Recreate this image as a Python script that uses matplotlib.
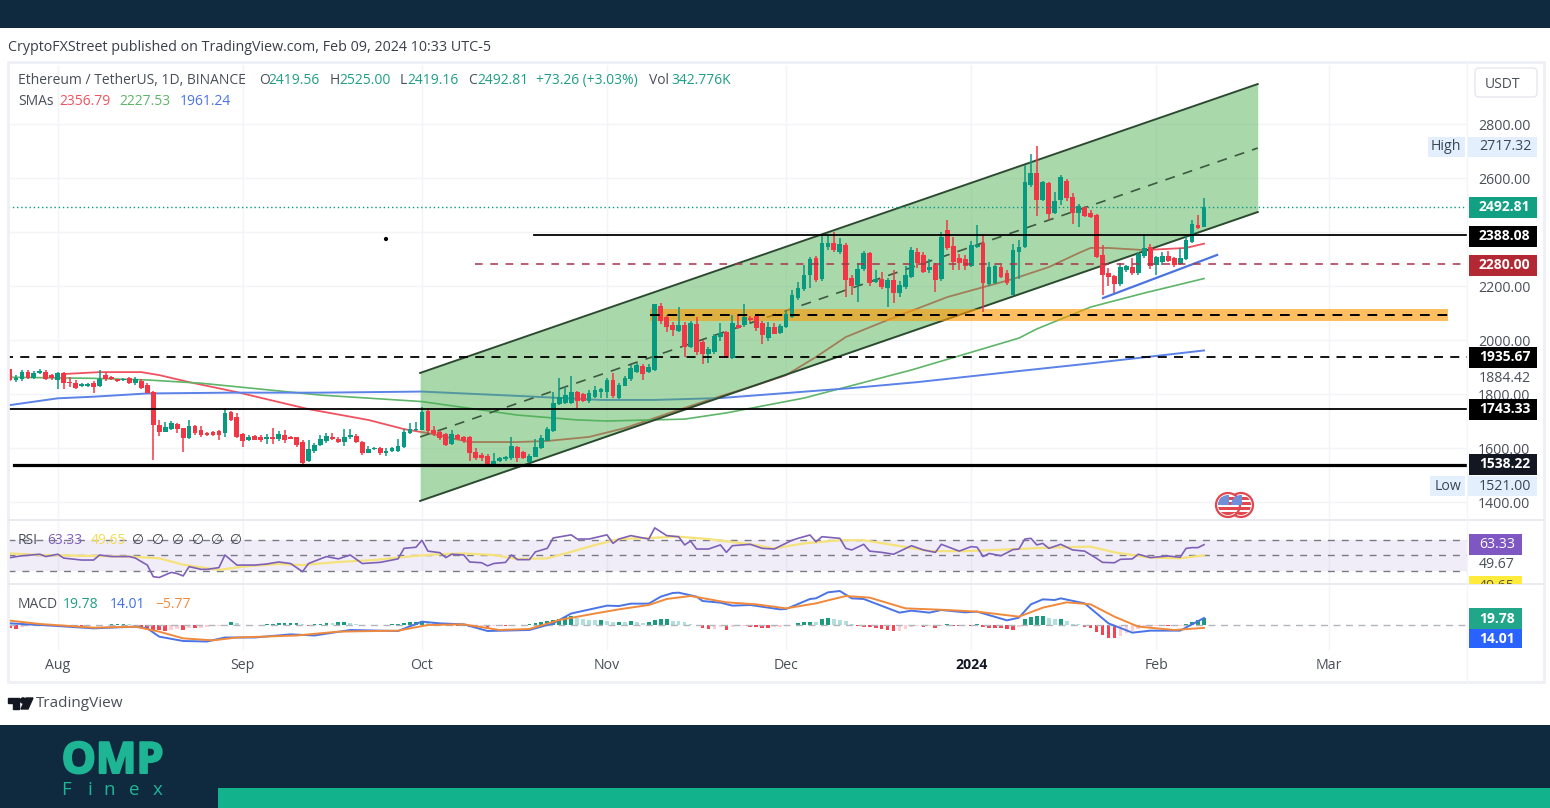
import matplotlib
matplotlib.use('Agg')
import matplotlib.pyplot as plt
import matplotlib.patheffects as pe
from matplotlib.patches import Rectangle, Circle, Polygon, FancyBboxPatch
from matplotlib.ticker import FixedLocator

W, H = 1550, 808
FONT = 'Open Sans'
plt.rcParams['font.family'] = [FONT, 'DejaVu Sans']

# daily candles, 2023-07-24 to 2024-02-09
opens = [1891,1852,1854,1883,1860,1876,1883,1870,1852,1877,
         1845,1842,1830,1829,1840,1830,1870,1862,1854,1852,
         1858,1840,1850,1833,1808,1685,1660,1669,1689,1673,
         1636,1681,1667,1657,1659,1664,1654,1733,1714,1651,
         1628,1644,1642,1632,1642,1632,1648,1640,1640,1623,
         1553,1590,1611,1627,1642,1635,1623,1639,1644,1623,
         1583,1597,1599,1581,1590,1590,1602,1657,1667,1668,
         1738,1668,1660,1652,1615,1648,1642,1640,1586,1574,
         1570,1541,1553,1558,1562,1605,1586,1550,1568,1601,
         1627,1663,1763,1765,1765,1806,1800,1774,1790,1808,
         1808,1852,1784,1831,1855,1882,1905,1880,1889,2126,
         2086,2055,2035,2055,1975,2059,1994,1948,1957,2012,
         2031,1932,2055,2055,2080,2089,2064,2006,2049,2025,
         2049,2086,2154,2188,2241,2302,2225,2345,2358,2327,
         2352,2228,2204,2262,2321,2216,2225,2191,2222,2175,
         2197,2234,2327,2315,2259,2278,2225,2407,2348,2302,
         2299,2274,2345,2358,2207,2210,2271,2249,2166,2327,
         2343,2574,2617,2519,2580,2469,2518,2590,2531,2469,
         2491,2472,2463,2315,2247,2238,2207,2259,2269,2247,
         2311,2346,2278,2290,2311,2302,2281,2299,2364,2426,
         2419.56]
highs = [1893,1870,1888,1890,1885,1892,1890,1875,1880,1882,
         1862,1852,1840,1839,1848,1889,1880,1868,1856,1858,
         1862,1862,1856,1840,1812,1703,1695,1701,1692,1675,
         1704,1686,1682,1660,1662,1668,1747,1736,1728,1655,
         1650,1648,1650,1652,1673,1664,1667,1643,1642,1628,
         1630,1617,1648,1657,1654,1640,1670,1669,1652,1626,
         1607,1603,1602,1600,1605,1632,1669,1691,1698,1753,
         1748,1680,1668,1655,1667,1652,1645,1645,1600,1580,
         1576,1580,1566,1570,1642,1608,1590,1576,1635,1648,
         1679,1808,1858,1827,1866,1810,1805,1815,1831,1822,
         1860,1876,1840,1865,1907,1916,1910,1911,2133,2138,
         2092,2068,2121,2065,2072,2086,2000,1975,2022,2062,
         2035,2093,2092,2133,2090,2095,2070,2068,2062,2060,
         2110,2185,2216,2278,2309,2310,2389,2389,2400,2376,
         2360,2240,2284,2331,2327,2259,2253,2228,2259,2218,
         2274,2343,2340,2327,2299,2284,2400,2445,2383,2318,
         2315,2365,2426,2389,2290,2277,2278,2259,2355,2370,
         2648,2689,2718,2590,2585,2550,2611,2595,2545,2505,
         2495,2480,2468,2352,2265,2240,2284,2277,2303,2325,
         2393,2356,2312,2327,2331,2306,2340,2389,2444,2462,
         2525]
lows = [1850,1845,1850,1855,1855,1874,1852,1853,1818,1820,
        1825,1818,1826,1826,1805,1826,1850,1852,1843,1848,
        1838,1835,1818,1802,1556,1644,1658,1667,1657,1586,
        1633,1650,1642,1645,1645,1630,1642,1700,1636,1605,
        1625,1628,1622,1615,1615,1627,1617,1632,1605,1531,
        1548,1580,1607,1620,1630,1620,1607,1634,1617,1574,
        1580,1594,1575,1570,1585,1586,1600,1653,1664,1665,
        1655,1645,1630,1608,1610,1628,1618,1552,1555,1552,
        1528,1534,1550,1553,1555,1550,1560,1545,1565,1596,
        1625,1660,1759,1762,1763,1749,1770,1765,1784,1784,
        1784,1784,1780,1828,1850,1876,1852,1876,1885,2060,
        2031,2015,2031,1938,1970,1944,1911,1916,1950,1997,
        1932,1930,2040,2049,2065,2035,1985,1997,2022,2022,
        2045,2083,2148,2183,2191,2215,2220,2333,2325,2320,
        2158,2166,2142,2255,2200,2212,2190,2121,2136,2160,
        2190,2228,2265,2247,2250,2179,2220,2335,2259,2259,
        2259,2270,2340,2105,2200,2207,2228,2204,2166,2226,
        2340,2568,2459,2515,2445,2465,2500,2515,2430,2420,
        2455,2452,2303,2166,2200,2173,2200,2253,2241,2241,
        2302,2262,2241,2278,2290,2269,2278,2296,2358,2412,
        2419.16]
closes = [1852,1860,1883,1858,1879,1886,1855,1858,1877,1842,
          1840,1821,1837,1837,1827,1855,1855,1855,1850,1855,
          1840,1855,1821,1805,1685,1660,1677,1691,1669,1636,
          1681,1654,1648,1647,1650,1650,1731,1704,1642,1627,
          1642,1630,1630,1642,1632,1651,1630,1635,1611,1543,
          1595,1611,1632,1644,1632,1623,1642,1648,1623,1580,
          1595,1600,1580,1590,1599,1607,1660,1669,1670,1735,
          1664,1652,1636,1611,1652,1632,1625,1580,1562,1562,
          1541,1553,1562,1566,1607,1562,1562,1572,1605,1636,
          1669,1765,1790,1795,1808,1774,1774,1802,1815,1817,
          1852,1792,1833,1858,1897,1907,1873,1899,2132,2072,
          2049,2037,2055,1973,2062,1957,1950,1965,2015,2027,
          1932,2062,2043,2086,2074,2043,2018,2047,2024,2052,
          2096,2167,2191,2241,2299,2222,2358,2358,2333,2355,
          2222,2200,2262,2321,2210,2225,2195,2222,2175,2204,
          2240,2333,2284,2253,2269,2222,2383,2340,2290,2284,
          2274,2352,2352,2210,2269,2274,2235,2212,2333,2345,
          2586,2617,2519,2586,2467,2515,2605,2525,2469,2496,
          2459,2457,2309,2241,2235,2207,2269,2274,2247,2318,
          2340,2274,2306,2311,2294,2278,2302,2370,2428,2414,
          2492.81]

# SMAs (day number, price)
sma_red_days = [9,15,22,25,30,38,50,60,66,70,77,85,90,97,103,110,118,125,130,135,140,147,157,168,174,179,181,184,190,197,200]
sma_red = [1874,1881,1881,1870,1844,1807,1744,1704,1670,1655,1622,1622,1626,1641,1674,1726,1785,1833,1870,1937,2011,2074,2159,2226,2270,2322,2341,2341,2333,2341,2356.79]
sma_green_days = [0,14,23,32,52,69,85,95,100,113,120,133,151,169,172,181,190,200]
sma_green = [1862,1858,1852,1840,1796,1772,1722,1704,1700,1707,1730,1785,1889,2007,2041,2122,2174,2227.53]
sma_blue_days = [0,8,14,23,37,52,69,85,99,108,119,141,152,169,180,192,200]
sma_blue = [1759,1784,1790,1802,1805,1805,1809,1793,1778,1778,1785,1822,1844,1885,1911,1941,1961.24]

# RSI and its average
rsi_days = [0,2,5,6,8,9,12,14,15,17,20,21,23,24,25,27,28,29,30,32,33,35,36,38,41,43,45,47,49,50,
            53,55,57,59,62,65,66,68,69,70,72,73,74,76,77,79,80,81,83,84,85,87,88,90,91,94,95,97,100,101,
            102,104,107,108,110,112,113,114,115,117,119,120,121,124,126,128,131,132,134,135,136,139,140,141,143,144,146,148,
            151,153,155,156,159,161,162,163,164,166,168,169,170,171,172,173,174,176,178,180,182,183,185,186,188,189,191,194,196,197,198,199,200]
rsi = [46.6,49,51,48,51,46,43.5,43.5,50,48,48,46,37,22,21,27.6,26,23,35,31.5,31.5,33.7,50,37,37,38.4,41,39,28.5,39,
       48,45,50,39,40.5,45,58.6,60,69,55,53,46.6,51,50,41,40,36,39,40.5,50,44,44,54,58.6,72,76,70.6,70.6,76,65,
       70.6,75,70.6,85,75,73.6,63,68,57.7,57.7,63,53.4,62,63.8,58.6,57.7,69,71.5,75.8,67,73.6,71.5,58.6,56.5,63.8,55,53.4,51,
       62,56.5,53.4,63.8,55,60.8,60,48,52,49,57,57.7,70.6,71.5,63,65,58.6,63.8,56.5,55,45.7,40.5,40,44.4,45,51,46.6,48.7,47,58.6,59.5,59.5,63.33]
rsi_ma_days = [0,5,20,25,29,35,39,45,49,55,61,68,72,76,81,85,90,93,98,102,107,112,117,124,128,133,139,143,148,154,160,165,174,181,185,191,196,200]
rsi_ma = [52,50,48,45.7,37.5,30.7,35,38.4,37,41,43.5,49,51,52,50,44.8,45.7,52,62.9,70.6,72,73.6,70.6,63.8,58.6,65,69,69,62.9,55,55,56.5,59.5,60.8,53.4,46.6,45.7,49.67]

# MACD lines
macd_days = [0,7,14,21,23,25,29,33,36,41,47,51,57,65,69,72,76,80,87,91,94,100,102,104,107,109,111,112,115,116,119,121,124,129,130,
             134,135,137,139,141,143,149,151,154,156,160,162,167,169,171,173,175,176,180,184,188,191,196,200]
macd_line = [3.3,-1.3,-6.7,-3.3,-6.7,-23.3,-32,-33,-25,-25,-18.7,-21,-10,-12,6.7,3.3,1.3,-12,-10,3.3,23,38.7,38,42.7,42.7,56.7,64,64.7,56.7,48,44.7,38.7,40,31.3,32,
             52,53.3,65.3,68,53.3,52,24.7,28.7,24.7,30,25.3,26.7,9.3,14.7,41.3,51.3,50,53.3,43.3,3.3,-15.3,-11.3,-11.3,14.01]
signal_days = [0,5,14,21,25,29,34,38,48,55,65,70,76,82,87,92,98,102,107,110,114,120,125,130,135,140,144,150,157,162,169,173,177,181,185,189,195,200]
signal_line = [8.7,2,-5.3,-3.3,-13.3,-26.7,-30.7,-25,-21,-13.3,-11.3,0,1.3,-10,-8,10,23,31.3,40,52,58,45.3,41.3,33.3,43.3,58,54.7,33.3,30,26.7,16.7,34.7,45.3,41.3,16.7,-3.3,-10,-5.77]
macd_hist = [-6,-7,-4,-2,-1,-1,-1,-1,-1,-1,
             -1,-1,-1,-1,1,1,1,2,2,3,
             2,-2,-3,-5,-9,-10,-11,-9,-8,-9,
             -6,-6,-5,-3,-2,-1,1,6,5,1,
             1,1,1,3,3,4,4,5,5,2,
             -1,2,3,5,4,6,6,5,3,1,
             1,1,1,1,2,3,4,6,7,9,
             7,6,4,2,1,-1,-2,-3,-5,-4,
             -5,-2,-1,-1,-1,1,1,2,4,6,
             8,10,13,17,19,14,12,11,10,10,
             8,7,7,6,8,7,4,6,10,12,
             12,9,8,6,2,1,-5,-8,-7,-3,
             -10,-3,-2,-1,-3,-4,-5,-5,-4,-3,
             -1,1,4,6,7,6,12,14,12,10,
             9,3,-1,-3,-3,-6,-8,-10,-12,-11,
             -8,-4,-2,-4,-2,-6,-2,2,-1,-1,
             0,-1,2,-3,-5,-6,-6,-7,-9,-3,
             12,16,18,19,14,12,13,8,3,2,
             -3,-6,-13,-20,-25,-25,-22,-16,-12,-7,
             -5,-3,-2,-2,-2,-2,-1,3,7,10,
             14]

price_ticks = [1400,1600,1800,2000,2200,2400,2600,2800]
price_tick_labels = ['1400.00','1600.00','1800.00','2000.00','2200.00','','2600.00','2800.00']
month_days = [8,39,69,100,130,161,192,221]
month_labels = ['Aug','Sep','Oct','Nov','Dec','2024','Feb','Mar']

# channel drawing and levels
channel_days = [68.7,209]
channel_top = [1878,2948]
channel_mid = [1641,2711]
channel_bottom = [1404,2474]
trend_days = [183.1,202.2]
trend_prices = [2155.6,2315]

UP = '#089981'
DOWN = '#f23645'
GRID = '#f3f4f8'
TEXT = '#4a4e59'
NAVY = '#0f2a3f'
TEAL = '#1db594'

PX_DAY = 5.97
X_LEFT, X_RIGHT = 8, 1467


def day_lim():
    return (X_LEFT - 10) / PX_DAY, (X_RIGHT - 10) / PX_DAY


def pane(y0, y1):
    a = fig.add_axes([X_LEFT / W, 1 - y1 / H, (X_RIGHT - X_LEFT) / W, (y1 - y0) / H])
    a.set_xlim(*day_lim())
    for s in a.spines.values():
        s.set_visible(False)
    a.xaxis.set_major_locator(FixedLocator(month_days))
    a.grid(True, axis='x', color=GRID, lw=1)
    a.tick_params(length=0, labelbottom=False, labelleft=False)
    a.set_yticks([])
    a.patch.set_alpha(0)
    a.set_axisbelow(True)
    return a


fig = plt.figure(figsize=(W / 100, H / 100), dpi=100, facecolor='white')

# main pane: y pixel = 124 + (2800 - price) * 0.27
ax = pane(65, 520)
ax.set_ylim(2800 - (520 - 124) / 0.27, 2800 - (65 - 124) / 0.27)
ax.yaxis.tick_right()
ax.set_yticks(price_ticks)
ax.set_yticklabels(price_tick_labels, fontsize=10.2, color=TEXT)
ax.tick_params(axis='y', length=0, pad=8, labelright=True)
ax.grid(True, axis='y', color=GRID, lw=1)

ax.plot(sma_red_days, sma_red, color='#f0525f', lw=1.3, zorder=2)
ax.plot(sma_green_days, sma_green, color='#5fb56a', lw=1.2, zorder=2)
ax.plot(sma_blue_days, sma_blue, color='#5b82e8', lw=1.4, zorder=2)

ax.fill_between(channel_days, channel_bottom, channel_top, color='#4caf50', alpha=0.48, lw=0, zorder=3)
ax.plot(channel_days, channel_top, color='#2c4a2f', lw=1.4, zorder=3.2)
ax.plot(channel_days, channel_bottom, color='#2c4a2f', lw=1.4, zorder=3.2)
ax.plot(channel_days, channel_mid, color='#3c5a40', lw=1.2, ls=(0, (6, 5)), zorder=3.2)

ax.fill_between([107.2, 240.9], 2070, 2115, color='#ff9800', alpha=0.62, lw=0, zorder=3.5)

idx = list(range(len(closes)))
colors = [UP if c >= o else DOWN for o, c in zip(opens, closes)]
ax.vlines(idx, lows, highs, colors=colors, lw=1.1, zorder=4)
ax.bar(idx, [abs(c - o) for o, c in zip(opens, closes)], bottom=[min(o, c) for o, c in zip(opens, closes)],
       width=0.8, color=colors, lw=0, zorder=4)

ax.plot(trend_days, trend_prices, color='#4b74e0', lw=1.6, zorder=5)
xr = day_lim()[1]
ax.plot([-1, xr], [2492.81, 2492.81], color='#089981', lw=1, ls=(0, (1, 2)), zorder=5)
ax.plot([87.8, xr], [2388.08, 2388.08], color='black', lw=1.3, zorder=5)
ax.plot([77.9, xr], [2280, 2280], color='#a8324a', lw=1.1, ls=(0, (5, 5)), zorder=5)
ax.plot([107.2, 240.9], [2093, 2093], color='black', lw=1.4, ls=(0, (5, 4)), zorder=5)
ax.plot([-1, xr], [1935.67, 1935.67], color='black', lw=1.3, ls=(0, (5, 4)), zorder=5)
ax.plot([-1, xr], [1743.33, 1743.33], color='black', lw=1.3, zorder=5)
ax.plot([0.67, xr], [1538.22, 1538.22], color='black', lw=2.3, zorder=5)

# RSI pane
rsi_ax = pane(521, 583)
rsi_ax.set_ylim(50 + (555 - 583) / 0.775, 50 + (555 - 521) / 0.775)
rsi_ax.axhspan(30, 70, color='#7e57c2', alpha=0.1, lw=0)
for lvl in [30, 50, 70]:
    rsi_ax.axhline(lvl, color='#787b86', lw=1, ls=(0, (5, 5)))
rsi_ax.plot(rsi_ma_days, rsi_ma, color='#f5e27a', lw=1.6)
rsi_ax.plot(rsi_days, rsi, color='#7e60b8', lw=1.2)

# MACD pane, 2 units per pixel, zero at y=625
macd_ax = pane(585, 650)
macd_ax.set_ylim((625 - 650) * 2, (625 - 585) * 2)
macd_ax.axhline(0, color='#b2b5be', lw=1, ls=(0, (5, 4)))
hist_colors = []
for i, v in enumerate(macd_hist):
    prev = macd_hist[i - 1] if i else v
    if v >= 0:
        hist_colors.append('#1a9a7f' if v >= prev else '#b2dfdb')
    else:
        hist_colors.append('#f44352' if v <= prev else '#ffcdd2')
macd_ax.bar(idx, macd_hist, width=0.62, color=hist_colors, lw=0)
macd_ax.plot(macd_days, macd_line, color='#4a74e6', lw=1.4)
macd_ax.plot(signal_days, signal_line, color='#f0893c', lw=1.4)
macd_ax.set_xticks(month_days)
macd_ax.set_xticklabels(month_labels, fontsize=10.2, color=TEXT)
macd_ax.tick_params(axis='x', length=0, pad=6, labelbottom=True)
macd_ax.get_xticklabels()[5].set_color('#131722')
macd_ax.get_xticklabels()[5].set_fontweight('bold')

# pixel overlay for the page furniture
ov = fig.add_axes([0, 0, 1, 1], zorder=10)
ov.set_xlim(0, W)
ov.set_ylim(H, 0)
ov.axis('off')
ov.patch.set_alpha(0)


def box(x0, y0, x1, y1, color, z=1, **kw):
    r = Rectangle((x0, y0), x1 - x0, y1 - y0, facecolor=color, edgecolor='none', zorder=z, **kw)
    ov.add_patch(r)
    return r


def label(x, y, s, color=TEXT, size=10.2, ha='left', weight='normal', z=5):
    return ov.text(x, y, s, color=color, fontsize=size, ha=ha, va='center', fontweight=weight, zorder=z)


# dark bands and frame
box(0, 0, W, 28, NAVY)
box(0, 725, W, H, NAVY)
box(218, 788, W, H, '#12b38c', z=2)
ov.add_patch(Rectangle((8, 62), 1536, 620, fill=False, edgecolor='#eef0f5', lw=2, zorder=1))
ov.plot([8, 1544], [520, 520], color='#e6e8ee', lw=1.2, zorder=1)
ov.plot([8, 1544], [584, 584], color='#e6e8ee', lw=1.2, zorder=1)
ov.plot([1467, 1467], [62, 682], color='#f4f5f8', lw=1, zorder=1)
ov.add_patch(Circle((386, 239), 1.4, color='black', zorder=2))

label(8, 47.5, 'CryptoFXStreet published on TradingView.com, Feb 09, 2024 10:33 UTC-5', color='#3a3e48', size=10.3)

# legend rows
label(18, 80.5, 'Ethereum / TetherUS, 1D, BINANCE', size=10)
for x_o, letter, x_v, val in [(259, 'O', 268, '2419.56'), (330, 'H', 339, '2525.00'), (400, 'L', 407, '2419.16'), (468, 'C', 477, '2492.81')]:
    label(x_o, 80.5, letter, size=10)
    label(x_v, 80.5, val, color='#1f9e86', size=10)
label(536, 80.5, '+73.26 (+3.03%)', color='#1f9e86', size=10)
label(649, 80.5, 'Vol', size=10)
label(671, 80.5, '342.776K', color='#1f9e86', size=10)
label(18, 101.5, 'SMAs', size=10)
label(59, 101.5, '2356.79', color='#f0525f', size=10)
label(119, 101.5, '2227.53', color='#5fb56a', size=10)
label(180, 101.5, '1961.24', color='#4a74e6', size=10)

label(18, 540, 'RSI', size=10)
label(47, 540, '63.33', color='#7e60b8', size=10)
label(91, 540, '49.65', color='#f3dc55', size=10)
for x_n in [138, 158, 178, 198, 217, 236]:
    label(x_n, 540, '\u2205', size=10, ha='center', color='#3a3e48')
label(18, 604, 'MACD', size=10)
label(63, 604, '19.78', color='#1f9e86', size=10)
label(110, 604, '14.01', color='#3f6fe6', size=10)
label(155, 604, '\u22125.77', color='#f0893c', size=10)

# right-hand scale tags
ov.add_patch(FancyBboxPatch((1475, 68), 62, 29, boxstyle='round,pad=0,rounding_size=4', facecolor='white', edgecolor='#e6e8ee', lw=1, zorder=2))
label(1502, 84, 'USDT', ha='center', size=10)

box(1428, 137, 1465, 157, '#e3effd', z=2)
box(1468, 137, 1537, 157, '#e3effd', z=2)
label(1446, 147, 'High', ha='center', color='#3a4656', z=3)
label(1479, 147, '2717.32', color='#3a4656', z=3)
box(1430, 476, 1465, 496, '#e3effd', z=2)
box(1468, 476, 1537, 496, '#e3effd', z=2)
label(1448, 486, 'Low', ha='center', color='#3a4656', z=3)
label(1479, 486, '1521.00', color='#3a4656', z=3)

label(1479, 378, '1884.42')
for y_t, txt, col in [(207, '2492.81', '#12a083'), (236, '2388.08', '#000000'), (265, '2280.00', '#b22833'),
                      (357, '1935.67', '#000000'), (409, '1743.33', '#000000'), (464, '1538.22', '#131722')]:
    box(1469, y_t - 10.5, 1537, y_t + 10.5, col, z=3)
    label(1479, y_t, txt, color='white', size=10, weight='bold', z=4)

box(1469, 534, 1522, 555, '#7e57c2', z=3)
label(1479, 544, '63.33', color='white', z=4)
label(1479, 565, '49.67')
clip = box(1469, 576, 1522, 584, '#ffeb3b', z=3)
t = label(1479, 586, '49.65', color='#5a5a3a', z=4)
t.set_clip_on(True)
t.set_clip_path(clip)
box(1469, 608, 1522, 629, '#22a68a', z=3)
label(1479, 619, '19.78', color='white', size=10, weight='bold', z=4)
box(1469, 629, 1522, 648, '#2962ff', z=3)
label(1479, 639, '14.01', color='white', size=10, weight='bold', z=4)

# flag icons
for cx in [1241, 1228]:
    ov.add_patch(Circle((cx, 505), 12, facecolor='white', edgecolor='#e0474f', lw=1.6, zorder=3))
    face = Circle((cx, 505), 10, transform=ov.transData)
    for y_s in [497, 502, 507, 512]:
        r = box(cx - 10, y_s, cx + 10, y_s + 2.5, '#e0474f', z=4)
        r.set_clip_path(face)
    r = box(cx - 10, 495, cx + 1, 505, '#6f8fd8', z=5)
    r.set_clip_path(face)

# TradingView mark
ov.add_patch(Polygon([(8, 698), (19, 698), (19, 709), (13, 709), (13, 703), (8, 703)], color='#131722', zorder=3))
ov.add_patch(Circle((23, 700.5), 2.6, color='#131722', zorder=3))
ov.add_patch(Polygon([(26, 698), (33, 698), (28, 709), (21, 709)], color='#131722', zorder=3))
label(36, 703.5, 'TradingView', size=11, color='#4a4e59')

# OMP Finex logo
logo = ov.text(112.5, 773, 'OMP', color=TEAL, fontsize=31, fontweight='bold', ha='center', va='baseline', family='Open Sans', zorder=3)
logo.set_path_effects([pe.withStroke(linewidth=1.5, foreground=TEAL)])
for x_f, ch in zip([66, 90, 109, 134, 158], 'Finex'):
    ov.text(x_f, 795, ch, color=TEAL, fontsize=13.5, ha='center', va='baseline', family='Open Sans', zorder=3)

fig.savefig('out.png', dpi=100)
